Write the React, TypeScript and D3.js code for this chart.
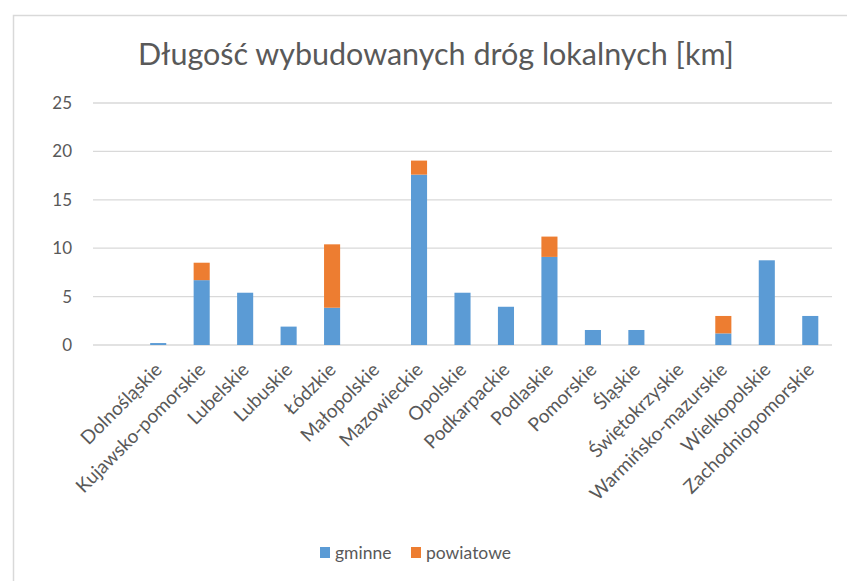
import React from "react";
import * as d3 from "d3";

const categories = [
  "",
  "Dolnośląskie",
  "Kujawsko-pomorskie",
  "Lubelskie",
  "Lubuskie",
  "Łódzkie",
  "Małopolskie",
  "Mazowieckie",
  "Opolskie",
  "Podkarpackie",
  "Podlaskie",
  "Pomorskie",
  "Śląskie",
  "Świętokrzyskie",
  "Warmińsko-mazurskie",
  "Wielkopolskie",
  "Zachodniopomorskie",
];
const gminne = [0, 0.2, 6.7, 5.4, 1.9, 3.85, 0, 17.6, 5.4, 3.95, 9.1, 1.55, 1.55, 0, 1.2, 8.75, 3.0];
const powiatowe = [0, 0, 1.8, 0, 0, 6.55, 0, 1.45, 0, 0, 2.1, 0, 0, 0, 1.8, 0, 0];
const seriesNames = ["gminne", "powiatowe"];
const yTicks = [0, 5, 10, 15, 20, 25];
const title = "Długość wybudowanych dróg lokalnych [km]";

const COLORS = ["#5b9bd5", "#ed7d31"];
const FONT = "Lato, 'Open Sans', sans-serif";
const TEXT = "#595959";

export default function App() {
  const W = 847;
  const H = 581;
  const left = 93;
  const right = 832;
  const y = d3.scaleLinear().domain([0, 25]).range([345, 103]);
  const x = d3
    .scaleBand<string>()
    .domain(categories.map((c, i) => i + ":" + c))
    .range([left, right])
    .paddingInner(0.63)
    .paddingOuter(0.315);

  const rows = categories.map((c, i) => ({ key: i + ":" + c, name: c, gminne: gminne[i], powiatowe: powiatowe[i] }));
  const stack = d3.stack<any>().keys(seriesNames)(rows);

  return (
    <svg
      width={W}
      height={H}
      style={{ position: "absolute", left: 0, top: 0, background: "#fff" }}
    >
      <rect x={13.5} y={15.5} width={900} height={700} fill="#fff" stroke="#d9d9d9" strokeWidth={1.5} />
      <text x={436} y={65} textAnchor="middle" fontFamily={FONT} fontSize={30.5} fill={TEXT}>
        {title}
      </text>
      {yTicks.map((t) => (
        <g key={t}>
          <line x1={left} x2={right} y1={y(t)} y2={y(t)} stroke="#d9d9d9" strokeWidth={1.3} />
          <text x={72} y={y(t)} dy="0.35em" textAnchor="end" fontFamily={FONT} fontSize={17} fill={TEXT}>
            {t}
          </text>
        </g>
      ))}
      {stack.map((s, si) => (
        <g key={si} fill={COLORS[si]}>
          {s.map((d, i) =>
            d[1] - d[0] > 0 ? (
              <rect
                key={i}
                x={x(rows[i].key)}
                width={x.bandwidth()}
                y={y(d[1])}
                height={y(d[0]) - y(d[1])}
              />
            ) : null
          )}
        </g>
      ))}
      {rows.map((r) => {
        const cx = (x(r.key) as number) + x.bandwidth() / 2;
        return (
          <text
            key={r.key}
            transform={`translate(${cx + 5},${371}) rotate(-45)`}
            textAnchor="end"
            fontFamily={FONT}
            fontSize={19}
            fill={TEXT}
          >
            {r.name}
          </text>
        );
      })}
      {seriesNames.map((n, i) => {
        const lx = [320, 411][i];
        return (
          <g key={n}>
            <rect x={lx} y={547} width={10} height={11} fill={COLORS[i]} />
            <text x={lx + 15} y={559} fontFamily={FONT} fontSize={17.5} fill={TEXT}>
              {n}
            </text>
          </g>
        );
      })}
    </svg>
  );
}
